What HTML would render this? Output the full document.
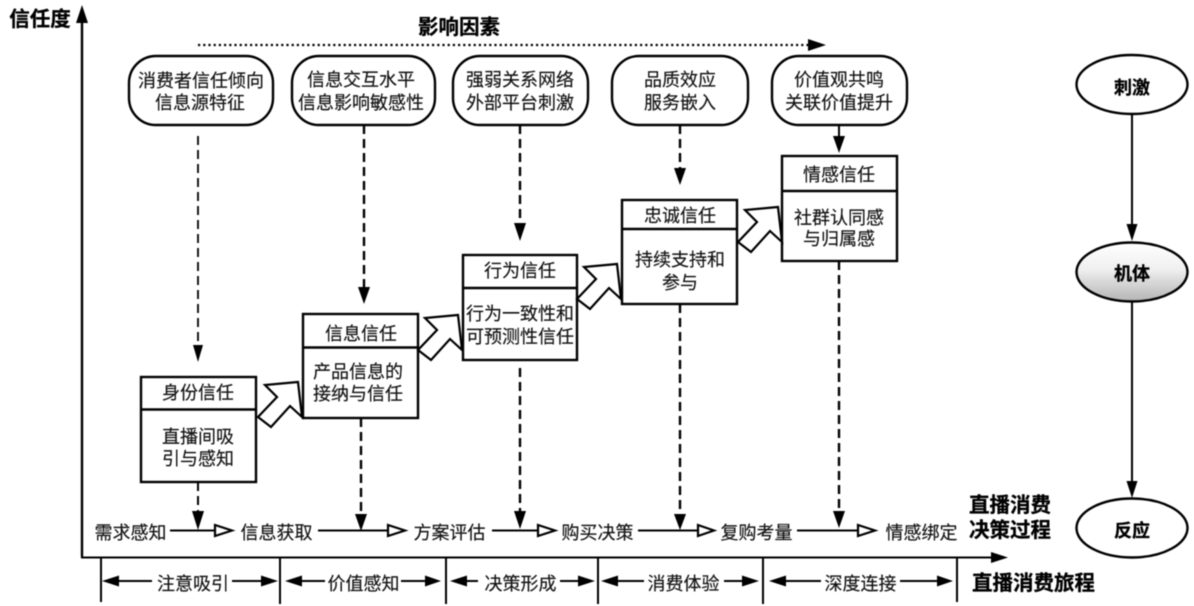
<!DOCTYPE html>
<html><head><meta charset="utf-8"><style>
html,body{margin:0;padding:0;background:#fff;width:1194px;height:606px;overflow:hidden}
svg{display:block;filter:blur(.5px)}
text{font-family:"Liberation Sans","Noto Sans CJK SC",sans-serif;font-size:18px;fill:#111;text-anchor:middle;stroke:#111;stroke-width:.15px}
.b{font-weight:700;fill:#000;stroke:#000;stroke-width:.3px}
.l{fill:none;stroke:#000;stroke-width:2}
.d{fill:none;stroke:#000;stroke-width:2.4;stroke-dasharray:9 5}
.box{fill:#fff;stroke:#000;stroke-width:2.4}
.ar{fill:#fff;stroke:#000;stroke-width:2.2;stroke-linejoin:miter}
.h{fill:#000;stroke:none}
.o{fill:#fff;stroke:#000;stroke-width:2.2}
</style></head><body>
<svg width="1194" height="606" viewBox="0 0 1194 606" xmlns="http://www.w3.org/2000/svg">
<defs><linearGradient id="g" x1="0" y1="0" x2="0" y2="1"><stop offset="0" stop-color="#fff"/><stop offset=".45" stop-color="#f0f0f0"/><stop offset="1" stop-color="#b4b4b4"/></linearGradient></defs>

<!-- axes -->
<path class="l" d="M82 557V20" style="stroke-width:2.4"/>
<path class="h" d="M82 5L88 23H76Z"/>
<path class="l" d="M81 557.5H993"/>
<path class="h" d="M1008 557.5L991 552V563Z"/>
<text class="b" x="40" y="26" style="font-size:20.5px">信任度</text>
<text class="b" x="459" y="34" style="font-size:20.5px">影响因素</text>
<path d="M198 45H810" fill="none" stroke="#000" stroke-width="2.2" stroke-dasharray="2.2 3"/>
<path class="h" d="M826 45L808 39V51Z"/>

<!-- pills -->
<rect class="box" x="129" y="56" width="144" height="69" rx="27"/>
<rect class="box" x="292" y="56" width="143" height="69" rx="27"/>
<rect class="box" x="453" y="56" width="135" height="69" rx="27"/>
<rect class="box" x="612" y="56" width="136" height="69" rx="27"/>
<rect class="box" x="772" y="56" width="135" height="69" rx="27"/>
<text x="201" y="87">消费者信任倾向</text><text x="200" y="109">信息源特征</text>
<text x="361" y="86">信息交互水平</text><text x="361" y="109">信息影响敏感性</text>
<text x="520" y="86">强弱关系网络</text><text x="520" y="109">外部平台刺激</text>
<text x="680" y="86">品质效应</text><text x="680" y="109">服务嵌入</text>
<text x="839" y="86">价值观共鸣</text><text x="839" y="109">关联价值提升</text>

<!-- dashed down arrows (top) -->
<path class="d" style="stroke-width:1.8" d="M198 136V346"/><path class="h" d="M198 362L193 345H203Z"/>
<path class="d" d="M364 125V288"/><path class="h" d="M364 304L358 287H370Z"/>
<path class="d" d="M520 125V224"/><path class="h" d="M520 241L514 223H526Z"/>
<path class="d" d="M680 125V169"/><path class="h" d="M680 185L674 168H686Z"/>
<path class="l" d="M839 125V137"/><path class="h" d="M839 153L833 136H845Z"/>

<!-- boxes -->
<rect class="box" x="141" y="377" width="115" height="105"/><path class="l" style="stroke-width:2.4" d="M141 409.500H256"/>
<rect class="box" x="303" y="314" width="115" height="104"/><path class="l" style="stroke-width:2.4" d="M303 347.500H418"/>
<rect class="box" x="463" y="255" width="114" height="105"/><path class="l" style="stroke-width:2.4" d="M463 288H577"/>
<rect class="box" x="622" y="200" width="115" height="104"/><path class="l" style="stroke-width:2.4" d="M622 229H737"/>
<rect class="box" x="782" y="156" width="115" height="105"/><path class="l" style="stroke-width:2.4" d="M782 191H897"/>
<text x="198" y="399">身份信任</text><text x="198" y="443">直播间吸</text><text x="198" y="465">引与感知</text>
<text x="361" y="340">信息信任</text><text x="358" y="378">产品信息的</text><text x="358" y="400">接纳与信任</text>
<text x="520" y="277">行为信任</text><text x="520" y="320">行为一致性和</text><text x="520" y="343">可预测性信任</text>
<text x="680" y="222">忠诚信任</text><text x="680" y="266">持续支持和</text><text x="680" y="289">参与</text>
<text x="839" y="181">情感信任</text><text x="839" y="224">社群认同感</text><text x="839" y="245">与归属感</text>

<!-- block arrows -->
<defs><path id="ba" d="M258 417L271 427L290 406L302 417L298 382L265 385L277 397Z"/></defs>
<use href="#ba" class="ar"/>
<use href="#ba" class="ar" transform="translate(160,-67)"/>
<use href="#ba" class="ar" transform="translate(319,-118)"/>
<use href="#ba" class="ar" transform="translate(480,-175)"/>

<!-- dashed down arrows (bottom) -->
<path class="d" style="stroke-width:2" d="M198 482V512"/><path class="h" d="M198 530L192 511H204Z"/>
<path class="d" d="M361 418V516"/><path class="h" d="M361 531L355 514H367Z"/>
<path class="d" d="M520 368V512"/><path class="h" d="M520 529L514 511H526Z"/>
<path class="d" d="M680 304V515"/><path class="h" d="M680 530L674 514H686Z"/>
<path class="d" d="M839 261V512"/><path class="h" d="M839 528L833 511H845Z"/>

<!-- process row -->
<path class="l" d="M170 530.500H215M318 530.500H388M492 530.500H538M638 530.500H698M797 530.500H857"/>
<path class="o" d="M232 530.500L215 525V536Z"/>
<path class="o" d="M405 530.500L388 525V536Z"/>
<path class="o" d="M555 530.500L538 525V536Z"/>
<path class="o" d="M714 530.500L698 525V536Z"/>
<path class="o" d="M875 530.500L858 525V536Z"/>
<text x="130.500" y="539">需求感知</text><text x="276.500" y="539">信息获取</text><text x="449.500" y="539">方案评估</text><text x="597.500" y="539">购买决策</text><text x="756.500" y="539">复购考量</text><text x="921.500" y="539">情感绑定</text>

<!-- journey row -->
<path class="l" d="M101 557V602M280 557V604M446 557V604M598 557V604M763 557V604M957 557V602"/>
<path class="l" d="M115 581H152M232 581H265M298 581H325M401 581H428M463 581H478M560 581H582M614 581H644M724 581H746M782 581H821M900 581H941"/>
<path class="h" d="M102 581L119 575.500V586.500ZM278 581L261 575.500V586.500ZM285 581L302 575.500V586.500ZM441 581L425 575.500V586.500ZM450 581L467 575.500V586.500ZM595 581L578 575.500V586.500ZM601 581L618 575.500V586.500ZM759 581L742 575.500V586.500ZM769 581L786 575.500V586.500ZM953 581L937 575.500V586.500Z"/>
<text x="193" y="590">注意吸引</text><text x="363.500" y="590">价值感知</text><text x="520.500" y="590">决策形成</text><text x="683.500" y="590">消费体验</text><text x="860.500" y="590">深度连接</text>

<text class="b" x="1010" y="512" style="font-size:20.5px">直播消费</text>
<text class="b" x="1010" y="537" style="font-size:20.5px">决策过程</text>
<text class="b" x="1033.500" y="590" style="font-size:20.5px">直播消费旅程</text>

<!-- SOR column -->
<path class="l" d="M1132 114V226M1132 301V484"/>
<path class="h" d="M1132 241L1126.500 224H1137.500Z"/>
<path class="h" d="M1132 498L1126.500 481H1137.500Z"/>
<ellipse class="box" cx="1132" cy="84.500" rx="55.500" ry="29.500"/>
<ellipse class="box" cx="1132" cy="272" rx="55.500" ry="29.500" style="fill:url(#g)"/>
<ellipse class="box" cx="1132" cy="528" rx="55.500" ry="29.500"/>
<text class="b" x="1132" y="94">刺激</text>
<text class="b" x="1132" y="280">机体</text>
<text class="b" x="1132" y="537">反应</text>
</svg>
</body></html>
